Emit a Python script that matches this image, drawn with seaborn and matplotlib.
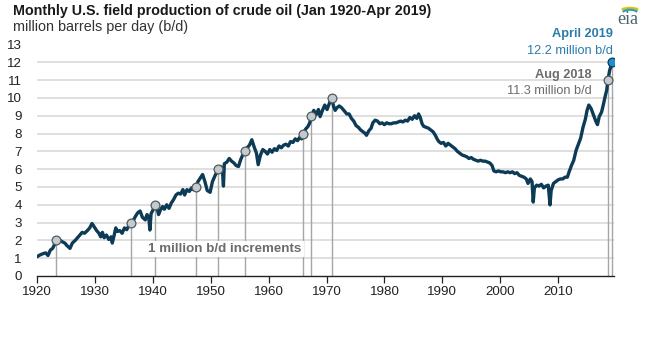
import matplotlib
matplotlib.use("Agg")
import matplotlib.pyplot as plt
import seaborn as sns
import pandas as pd
from matplotlib.patches import Arc

# ---- data ----
years = [
    1920.0, 1920.5, 1921.0, 1921.5, 1921.9, 1922.3, 1922.7, 1923.0, 1923.3, 1923.7,
    1924.2, 1924.8, 1925.2, 1925.7, 1926.1, 1926.6, 1927.0, 1927.4, 1927.8, 1928.2,
    1928.7, 1929.1, 1929.5, 1929.9, 1930.3, 1930.7, 1931.0, 1931.3, 1931.6, 1932.0,
    1932.4, 1932.8, 1933.0, 1933.3, 1933.6, 1933.9, 1934.3, 1934.7, 1935.1, 1935.5,
    1935.9, 1936.2, 1936.6, 1937.0, 1937.4, 1937.8, 1938.2, 1938.7, 1939.0, 1939.3,
    1939.5, 1939.7, 1940.1, 1940.4, 1940.7, 1941.0, 1941.3, 1941.7, 1942.0, 1942.4,
    1942.8, 1943.2, 1943.6, 1944.0, 1944.4, 1944.8, 1945.2, 1945.5, 1945.9, 1946.3,
    1946.7, 1947.0, 1947.4, 1947.8, 1948.2, 1948.6, 1949.0, 1949.4, 1949.9, 1950.3,
    1950.7, 1951.0, 1951.3, 1951.7, 1952.0, 1952.2, 1952.35, 1952.8, 1953.2, 1953.6,
    1954.0, 1954.4, 1954.8, 1955.2, 1955.6, 1955.9, 1956.3, 1956.7, 1957.1, 1957.5,
    1957.9, 1958.2, 1958.6, 1959.0, 1959.4, 1959.8, 1960.2, 1960.6, 1961.0, 1961.4,
    1961.8, 1962.2, 1962.6, 1963.0, 1963.4, 1963.8, 1964.2, 1964.6, 1965.0, 1965.4,
    1965.7, 1966.0, 1966.4, 1966.8, 1967.1, 1967.4, 1967.8, 1968.2, 1968.6, 1968.9,
    1969.3, 1969.7, 1970.1, 1970.5, 1970.9, 1971.2, 1971.5, 1971.8, 1972.2, 1972.6,
    1973.0, 1973.5, 1973.9, 1974.3, 1974.7, 1975.1, 1975.5, 1975.9, 1976.3, 1976.7,
    1976.9, 1977.3, 1977.7, 1978.0, 1978.4, 1978.8, 1979.2, 1979.6, 1980.0, 1980.4,
    1980.8, 1981.2, 1981.6, 1982.0, 1982.4, 1982.8, 1983.2, 1983.6, 1984.0, 1984.4,
    1984.8, 1985.2, 1985.6, 1985.9, 1986.2, 1986.5, 1986.8, 1987.2, 1987.6, 1988.0,
    1988.4, 1988.8, 1989.1, 1989.4, 1989.8, 1990.2, 1990.6, 1991.0, 1991.4, 1991.8,
    1992.2, 1992.6, 1993.0, 1993.4, 1993.8, 1994.2, 1994.6, 1995.0, 1995.4, 1995.8,
    1996.2, 1996.6, 1997.0, 1997.4, 1997.8, 1998.2, 1998.6, 1998.9, 1999.3, 1999.7,
    2000.1, 2000.5, 2000.9, 2001.3, 2001.7, 2002.1, 2002.5, 2002.9, 2003.3, 2003.7,
    2004.1, 2004.5, 2004.8, 2005.2, 2005.5, 2005.7, 2005.9, 2006.3, 2006.7, 2007.1,
    2007.5, 2007.9, 2008.3, 2008.6, 2008.8, 2009.2, 2009.6, 2010.0, 2010.4, 2010.8,
    2011.2, 2011.6, 2011.9, 2012.3, 2012.7, 2013.1, 2013.5, 2013.9, 2014.3, 2014.7,
    2015.0, 2015.3, 2015.7, 2016.1, 2016.5, 2016.8, 2017.1, 2017.5, 2017.8, 2018.1,
    2018.4, 2018.6, 2018.9, 2019.1, 2019.3,
]
production = [
    1.08, 1.18, 1.25, 1.30, 1.15, 1.45, 1.55, 1.75, 2.00, 2.10,
    1.95, 1.85, 1.70, 1.55, 1.85, 2.00, 2.15, 2.30, 2.45, 2.40,
    2.55, 2.70, 2.95, 2.75, 2.55, 2.40, 2.20, 2.45, 2.15, 2.30,
    2.05, 2.20, 1.85, 2.25, 2.70, 2.50, 2.55, 2.40, 2.70, 2.60,
    2.85, 3.00, 3.10, 3.35, 3.55, 3.65, 3.30, 3.15, 3.45, 3.30,
    2.58, 3.50, 3.75, 4.00, 3.85, 3.45, 3.70, 3.90, 3.75, 4.00,
    3.80, 4.10, 4.30, 4.55, 4.65, 4.60, 4.85, 4.55, 4.85, 4.75,
    4.95, 4.85, 5.00, 5.30, 5.50, 5.70, 5.30, 4.80, 4.70, 5.30,
    5.60, 5.80, 6.00, 6.15, 6.05, 5.05, 6.30, 6.40, 6.60, 6.45,
    6.35, 6.20, 6.15, 6.55, 6.85, 7.00, 7.20, 7.35, 7.65, 7.25,
    6.90, 6.25, 6.80, 7.10, 7.00, 6.85, 7.10, 6.95, 7.15, 7.05,
    7.30, 7.20, 7.35, 7.40, 7.30, 7.55, 7.50, 7.70, 7.60, 7.80,
    7.70, 8.00, 8.25, 8.40, 8.60, 8.95, 9.30, 9.05, 9.35, 8.95,
    9.30, 9.60, 9.35, 9.70, 10.00, 9.55, 9.30, 9.45, 9.55, 9.45,
    9.30, 9.10, 9.10, 8.85, 8.70, 8.45, 8.35, 8.20, 8.10, 8.00,
    7.90, 8.15, 8.30, 8.60, 8.75, 8.70, 8.55, 8.60, 8.50, 8.60,
    8.55, 8.55, 8.60, 8.60, 8.65, 8.70, 8.65, 8.75, 8.70, 8.90,
    8.80, 9.00, 8.85, 9.10, 8.90, 8.55, 8.40, 8.35, 8.30, 8.20,
    8.10, 7.90, 7.70, 7.55, 7.45, 7.50, 7.30, 7.45, 7.35, 7.25,
    7.15, 7.00, 6.90, 6.80, 6.75, 6.70, 6.60, 6.65, 6.55, 6.50,
    6.45, 6.50, 6.45, 6.45, 6.40, 6.35, 6.20, 5.90, 5.85, 5.90,
    5.85, 5.85, 5.80, 5.85, 5.80, 5.85, 5.75, 5.80, 5.65, 5.60,
    5.55, 5.45, 5.20, 5.45, 5.30, 4.15, 4.95, 5.10, 5.05, 5.15,
    4.95, 5.05, 5.10, 3.99, 4.80, 5.20, 5.30, 5.40, 5.45, 5.45,
    5.55, 5.55, 5.85, 6.20, 6.50, 7.05, 7.40, 7.75, 8.35, 8.80,
    9.30, 9.60, 9.40, 9.05, 8.70, 8.50, 8.95, 9.20, 9.60, 10.05,
    10.45, 11.00, 11.55, 11.75, 12.00,
]

# 1 million b/d increment markers
milestone_years = [1923.3, 1936.2, 1940.4, 1947.4, 1951.3, 1955.9, 1966.0, 1967.4, 1970.9, 2018.6]
milestone_values = [2, 3, 4, 5, 6, 7, 8, 9, 10, 11]
latest_year = [2019.3]
latest_value = [12.0]

x_ticks = [1920, 1930, 1940, 1950, 1960, 1970, 1980, 1990, 2000, 2010]
y_ticks = list(range(0, 14))

title = "Monthly U.S. field production of crude oil (Jan 1920-Apr 2019)"
subtitle = "million barrels per day (b/d)"

# ---- styling ----
sns.set_theme(style="white")
plt.rcParams["font.family"] = ["Liberation Sans", "DejaVu Sans"]

LINE = "#0d3b56"
GRID = "#d9d9d9"
VLINE = "#a6a6a6"
GREY_TXT = "#6b6b6b"
BLUE_TXT = "#2b7bab"

fig = plt.figure(figsize=(6.57, 3.44), dpi=100)
ax = fig.add_axes([37 / 657, 1 - 276 / 344, (613.7 - 37) / 657, (276 - 44.5) / 344])

df = pd.DataFrame({"year": years, "production": production})
mdf = pd.DataFrame({"year": milestone_years, "value": milestone_values})
ldf = pd.DataFrame({"year": latest_year, "value": latest_value})

# horizontal grid
for v in y_ticks[1:]:
    ax.axhline(v, color=GRID, lw=1.2, zorder=0)

# vertical drop lines
for yr, v in zip(milestone_years + latest_year, milestone_values + latest_value):
    ax.plot([yr, yr], [0, v], color=VLINE, lw=1.0, zorder=1)

ax.text(1939.2, 1.5, "1 million b/d increments", fontsize=9.6, fontweight="bold",
        color=GREY_TXT, va="center", ha="left", zorder=2,
        bbox=dict(facecolor="white", edgecolor="none", pad=1.5))

sns.lineplot(data=df, x="year", y="production", ax=ax, color=LINE, lw=2.4,
             zorder=3, sort=False)
sns.scatterplot(data=mdf, x="year", y="value", ax=ax, s=40, color="#c5cacd",
                edgecolor="#4f5a61", linewidth=0.9, zorder=4)
sns.scatterplot(data=ldf, x="year", y="value", ax=ax, s=40, color="#1f8fcf",
                edgecolor="#0d3b56", linewidth=0.9, zorder=4)

ax.set_xlim(1920, 2019.6)
ax.set_ylim(0, 13)
ax.set_xticks(x_ticks)
ax.set_yticks(y_ticks)
ax.set_xlabel("")
ax.set_ylabel("")
for s in ["top", "right", "left"]:
    ax.spines[s].set_visible(False)
ax.spines["bottom"].set_color("#222222")
ax.spines["bottom"].set_linewidth(1.0)
ax.tick_params(axis="x", direction="out", length=5, width=0.9, color="#222222",
               labelsize=9.6, pad=2, bottom=True, labelcolor="#222222")
ax.tick_params(axis="y", length=0, labelsize=9.6, pad=11, labelcolor="#222222")

# annotations
ax.text(2019.5, 13.57, "April 2019", color=BLUE_TXT, fontsize=9.2, fontweight="bold",
        ha="right", va="center", clip_on=False)
ax.text(2019.5, 12.62, "12.2 million b/d", color=BLUE_TXT, fontsize=9.2,
        ha="right", va="center", clip_on=False)
ax.text(2015.8, 11.3, "Aug 2018", color=GREY_TXT, fontsize=9.2, fontweight="bold",
        ha="right", va="center")
ax.text(2015.8, 10.38, "11.3 million b/d", color=GREY_TXT, fontsize=9.2,
        ha="right", va="center")

# title / subtitle
fig.text(13 / 657, 1 - 11 / 344, title, fontsize=10.3, fontweight="bold",
         color="#1a1a1a", ha="left", va="center")
fig.text(13 / 657, 1 - 27.5 / 344, subtitle, fontsize=10.4, color="#333333",
         ha="left", va="center")

# eia logo
fig.text(628 / 657, 1 - 20 / 344, "eia", fontsize=13, family="Liberation Serif",
         color="#4d6270", ha="center", va="center")
tr = fig.dpi_scale_trans
for w, dy, col in [(0.24, 0.0, "#f2c200"), (0.21, -0.012, "#8cc63f"), (0.18, -0.024, "#2a8dc6")]:
    arc = Arc((6.30, 3.31 + dy), w, 0.11, theta1=25, theta2=155, color=col, lw=1.2,
              transform=tr)
    fig.add_artist(arc)

fig.savefig("out.png", dpi=100)
